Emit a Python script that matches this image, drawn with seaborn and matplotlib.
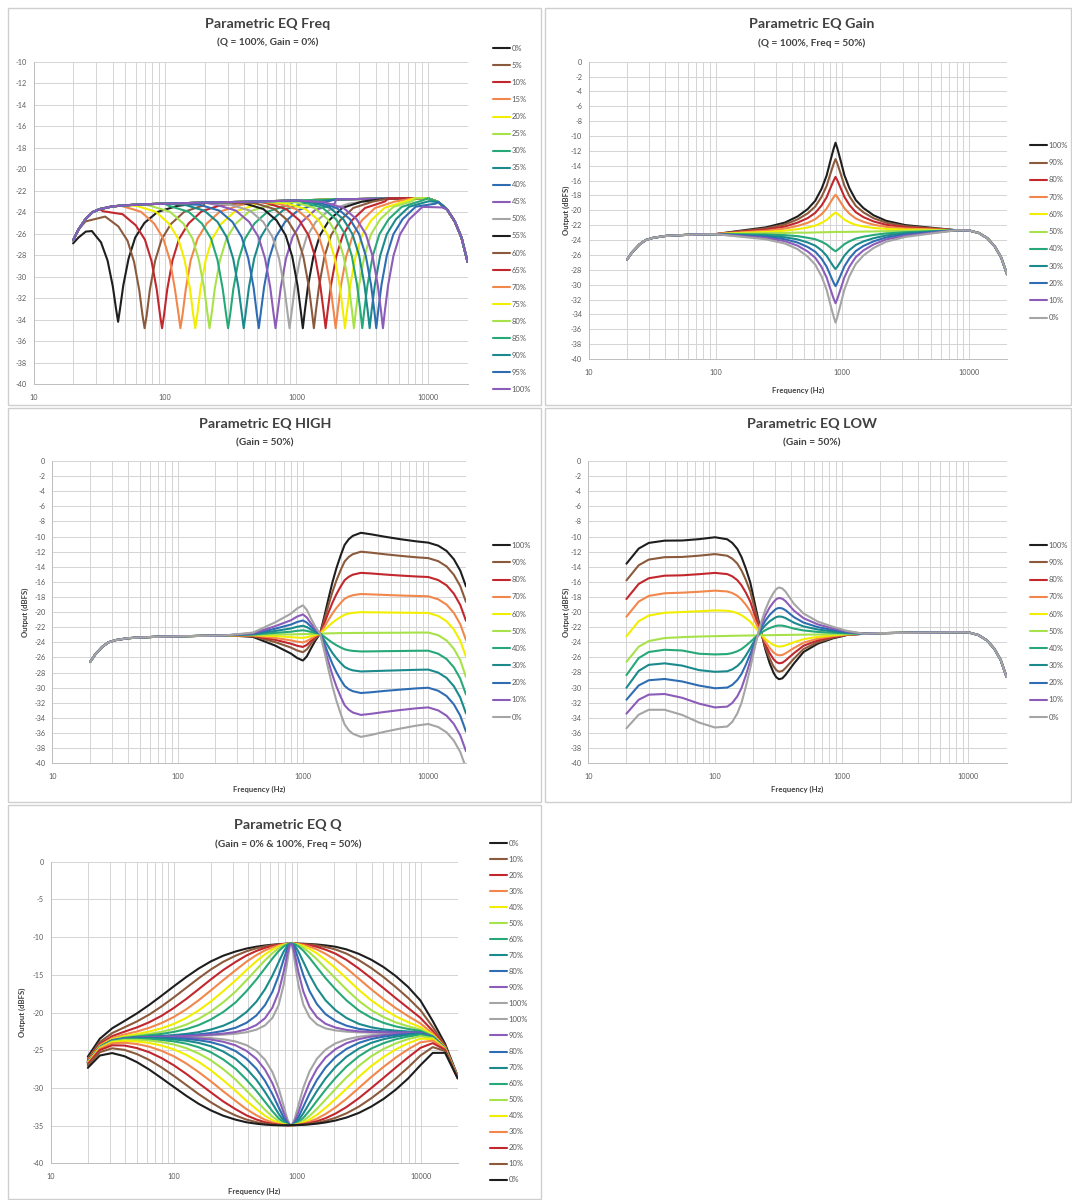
import numpy as np
import pandas as pd
import matplotlib
matplotlib.use("Agg")
import matplotlib.pyplot as plt
import seaborn as sns
from matplotlib.patches import Rectangle
from matplotlib.ticker import FixedLocator, NullFormatter

# ---------------------------------------------------------------- data
# shared system response (read from the flat parts of the curves)
base_hz = [20, 22, 25, 28, 32, 40, 50, 70, 100, 200, 500, 1000, 2000, 5000,
           8000, 10000, 12000, 14000, 16000, 18000, 20000]
base_db = [-26.6, -25.6, -24.6, -24.0, -23.7, -23.45, -23.35, -23.25, -23.2, -23.1,
           -23.0, -22.9, -22.8, -22.72, -22.68, -22.7, -23.05, -23.75, -24.85, -26.35, -28.6]

curve_colors = ["#1e1e1e", "#8b5a3c", "#c1272d", "#f2874c", "#f2ee00", "#a8e24a",
                "#27a878", "#1b8a8c", "#2f6db3", "#8c5cb9", "#a5a5a5"]

# Panel 1 : Parametric EQ Freq
freq_labels = ["0%", "5%", "10%", "15%", "20%", "25%", "30%", "35%", "40%", "45%", "50%",
               "55%", "60%", "65%", "70%", "75%", "80%", "85%", "90%", "95%", "100%"]
freq_notch_hz = [
    [20, 22, 25, 27.8, 32.6, 36.6, 40.1, 42.5, 44, 45.5, 48.2, 52.9, 59.4, 69.7, 87.8, 124],
    [24.9, 35.1, 44.2, 51.9, 58.2, 63.8, 67.6, 70, 72.5, 76.7, 84.1, 94.4, 111, 140, 197],
    [33.7, 47.6, 59.9, 70.4, 79.0, 86.6, 91.8, 95, 98.3, 104, 114, 128, 151, 190, 268],
    [46.5, 65.6, 82.7, 97.1, 109, 119, 127, 131, 136, 144, 157, 177, 208, 261, 369],
    [60.4, 85.2, 107, 126, 141, 155, 164, 170, 176, 186, 204, 229, 269, 339, 479],
    [77.4, 109, 138, 162, 181, 199, 211, 218, 226, 239, 262, 294, 346, 435, 614],
    [107, 151, 191, 224, 251, 275, 292, 302, 313, 331, 363, 407, 479, 602, 851],
    [141, 199, 251, 294, 330, 362, 384, 397, 411, 435, 477, 536, 629, 792, 1119],
    [184, 259, 326, 383, 430, 472, 499, 517, 535, 567, 621, 697, 819, 1031, 1457],
    [246, 347, 437, 514, 577, 632, 669, 693, 717, 760, 833, 935, 1098, 1383, 1953],
    [315, 444, 559, 657, 737, 808, 856, 886, 917, 971, 1065, 1195, 1404, 1768, 2497],
    [397, 560, 705, 828, 930, 1020, 1080, 1118, 1157, 1225, 1344, 1508, 1772, 2230, 3151],
    [482, 680, 856, 1006, 1129, 1238, 1311, 1357, 1404, 1487, 1631, 1831, 2151, 2707, 3824],
    [592, 835, 1052, 1235, 1387, 1520, 1610, 1667, 1725, 1827, 2004, 2249, 2642, 3326, 4698],
    [705, 995, 1254, 1472, 1653, 1812, 1919, 1987, 2057, 2178, 2388, 2680, 3149, 3964, 5599],
    [830, 1171, 1475, 1732, 1945, 2132, 2259, 2338, 2420, 2562, 2810, 3154, 3706, 4664, 6588],
    [972, 1371, 1727, 2028, 2277, 2496, 2644, 2737, 2833, 3000, 3290, 3692, 4338, 5460, 7713],
    [1125, 1587, 1999, 2347, 2636, 2889, 3060, 3168, 3279, 3472, 3808, 4274, 5021, 6320, 8927],
    [1279, 1806, 2274, 2671, 2999, 3287, 3481, 3604, 3730, 3950, 4332, 4862, 5712, 7190, 10156],
    [1437, 2028, 2554, 2999, 3367, 3691, 3909, 4047, 4189, 4436, 4864, 5459, 6414, 8074, 11404],
    [1615, 2280, 2871, 3372, 3786, 4150, 4395, 4550, 4709, 4987, 5469, 6138, 7212, 9077, 12822],
]
freq_notch_db = [
    [-26.9, -26.35, -25.8, -25.75, -26.8, -28.5, -30.9, -33.05, -34.2, -33.0, -30.8, -28.3, -26.35, -25.0, -23.97, -23.41],
    [-24.85, -24.4, -25.32, -26.65, -28.62, -31.29, -33.67, -34.8, -33.65, -31.24, -28.53, -26.51, -25.09, -23.96, -23.35],
    [-23.9, -24.18, -25.21, -26.55, -28.54, -31.22, -33.61, -34.8, -33.6, -31.2, -28.49, -26.48, -25.05, -23.91, -23.32],
    [-23.4, -23.95, -25.05, -26.45, -28.45, -31.15, -33.55, -34.8, -33.55, -31.15, -28.45, -26.45, -25.05, -23.95, -23.35],
    [-23.4, -23.95, -25.05, -26.45, -28.45, -31.15, -33.55, -34.8, -33.55, -31.15, -28.45, -26.45, -25.05, -23.95, -23.35],
    [-23.4, -23.95, -25.05, -26.45, -28.45, -31.15, -33.55, -34.8, -33.55, -31.15, -28.45, -26.45, -25.05, -23.95, -23.35],
    [-23.4, -23.95, -25.05, -26.45, -28.45, -31.15, -33.55, -34.8, -33.55, -31.15, -28.45, -26.45, -25.05, -23.95, -23.35],
    [-23.3, -23.85, -24.9, -26.3, -28.3, -31.0, -33.4, -34.8, -33.4, -31.0, -28.3, -26.3, -24.9, -23.8, -23.2],
    [-23.3, -23.85, -24.9, -26.3, -28.3, -31.0, -33.4, -34.8, -33.4, -31.0, -28.3, -26.3, -24.9, -23.8, -23.2],
    [-23.3, -23.85, -24.9, -26.3, -28.3, -31.0, -33.4, -34.8, -33.4, -31.0, -28.3, -26.3, -24.9, -23.8, -23.2],
    [-23.3, -23.85, -24.9, -26.3, -28.3, -31.0, -33.4, -34.8, -33.4, -31.0, -28.3, -26.3, -24.9, -23.8, -23.2],
    [-23.15, -23.7, -24.75, -26.15, -28.15, -30.85, -33.25, -34.8, -33.25, -30.85, -28.15, -26.15, -24.75, -23.6, -23.0],
    [-23.15, -23.7, -24.75, -26.15, -28.15, -30.85, -33.25, -34.8, -33.25, -30.85, -28.15, -26.15, -24.75, -23.6, -23.0],
    [-23.15, -23.7, -24.75, -26.15, -28.15, -30.85, -33.25, -34.8, -33.25, -30.85, -28.15, -26.15, -24.75, -23.6, -23.0],
    [-23.15, -23.7, -24.75, -26.15, -28.15, -30.85, -33.25, -34.8, -33.25, -30.85, -28.15, -26.15, -24.75, -23.6, -23.0],
    [-23.15, -23.7, -24.75, -26.15, -28.15, -30.85, -33.25, -34.8, -33.25, -30.85, -28.15, -26.15, -24.75, -23.6, -23.0],
    [-23.05, -23.6, -24.65, -26.05, -28.05, -30.75, -33.15, -34.8, -33.15, -30.75, -28.05, -26.05, -24.65, -23.5, -22.93],
    [-23.05, -23.6, -24.65, -26.05, -28.05, -30.75, -33.15, -34.8, -33.15, -30.75, -28.05, -26.05, -24.65, -23.5, -22.93],
    [-23.05, -23.6, -24.65, -26.05, -28.05, -30.75, -33.15, -34.8, -33.15, -30.75, -28.05, -26.05, -24.65, -23.49, -22.97],
    [-23.05, -23.6, -24.65, -26.05, -28.05, -30.75, -33.15, -34.8, -33.15, -30.75, -28.05, -26.05, -24.65, -23.48, -23.2],
    [-23.05, -23.6, -24.65, -26.05, -28.05, -30.75, -33.15, -34.8, -33.15, -30.75, -28.05, -26.05, -24.65, -23.5, -23.55],
]

# Panels 2-4 share the legend labels
level_labels = ["100%", "90%", "80%", "70%", "60%", "50%", "40%", "30%", "20%", "10%", "0%"]

# Panel 2 : Parametric EQ Gain
gain_hz = [140, 249, 352, 444, 533, 612, 687, 753, 807, 855, 885, 916, 970, 1040, 1140,
           1279, 1469, 1766, 2223, 3140, 5584]
gain_db = [
    [-22.85, -22.29, -21.65, -20.82, -19.83, -18.71, -17.09, -15.31, -13.3, -11.7, -10.9, -11.69, -13.28, -15.27, -17.03, -18.62, -19.69, -20.66, -21.41, -21.98, -22.41],
    [-22.9, -22.43, -21.9, -21.22, -20.41, -19.49, -18.17, -16.71, -15.06, -13.76, -13.1, -13.75, -15.04, -16.67, -18.11, -19.4, -20.27, -21.06, -21.66, -22.12, -22.46],
    [-22.96, -22.59, -22.18, -21.65, -21.05, -20.34, -19.34, -18.23, -16.99, -16.0, -15.5, -15.99, -16.97, -18.19, -19.28, -20.25, -20.91, -21.49, -21.94, -22.28, -22.52],
    [-23.02, -22.75, -22.46, -22.09, -21.68, -21.19, -20.51, -19.76, -18.91, -18.24, -17.9, -18.23, -18.89, -19.72, -20.45, -21.1, -21.54, -21.93, -22.22, -22.44, -22.58],
    [-23.08, -22.91, -22.74, -22.53, -22.31, -22.05, -21.68, -21.29, -20.83, -20.48, -20.3, -20.47, -20.81, -21.25, -21.62, -21.96, -22.17, -22.37, -22.5, -22.6, -22.64],
    [-23.15, -23.08, -23.04, -23.0, -23.0, -22.97, -22.95, -22.94, -22.92, -22.91, -22.9, -22.9, -22.9, -22.9, -22.89, -22.88, -22.86, -22.84, -22.8, -22.77, -22.71],
    [-23.22, -23.25, -23.34, -23.47, -23.69, -23.89, -24.22, -24.59, -25.01, -25.34, -25.5, -25.33, -24.99, -24.55, -24.16, -23.8, -23.55, -23.31, -23.1, -22.94, -22.78],
    [-23.28, -23.41, -23.62, -23.91, -24.32, -24.75, -25.39, -26.12, -26.93, -27.58, -27.9, -27.57, -26.91, -26.08, -25.33, -24.66, -24.18, -23.75, -23.38, -23.1, -22.84],
    [-23.33, -23.56, -23.89, -24.33, -24.93, -25.56, -26.51, -27.58, -28.77, -29.73, -30.2, -29.72, -28.75, -27.54, -26.45, -25.47, -24.79, -24.17, -23.65, -23.25, -22.89],
    [-23.39, -23.71, -24.15, -24.75, -25.53, -26.38, -27.63, -29.05, -30.62, -31.88, -32.5, -31.87, -30.6, -29.01, -27.57, -26.29, -25.39, -24.59, -23.91, -23.42, -22.95],
    [-23.46, -23.89, -24.46, -25.22, -26.22, -27.3, -28.9, -30.7, -32.7, -34.3, -35.1, -34.29, -32.68, -30.66, -28.84, -27.21, -26.08, -25.06, -24.22, -23.58, -23.02],
]

# Panel 3 : Parametric EQ HIGH
high_hz = [250, 400, 600, 800, 900, 1000, 1075, 1150, 1260, 1370, 1480, 1600, 1720, 1850,
           2000, 2150, 2320, 2500, 2900, 3500, 4500, 6000, 8000, 10000, 12000, 14000,
           16000, 18000, 20000]
high_db = [
    [-23.05, -23.28, -24.42, -25.47, -26.07, -26.4, -25.84, -24.9, -23.72, -22.85, -20.59, -18.18, -16.03, -14.17, -12.49, -11.1, -10.35, -9.9, -9.5, -9.7, -10.02, -10.35, -10.63, -10.8, -11.2, -11.9, -13.0, -14.5, -16.6],
    [-23.05, -23.19, -23.96, -24.68, -25.08, -25.3, -24.92, -24.27, -23.46, -22.85, -21.02, -19.05, -17.31, -15.8, -14.43, -13.3, -12.69, -12.33, -12.0, -12.13, -12.34, -12.55, -12.74, -12.85, -13.25, -13.95, -15.05, -16.55, -18.65],
    [-23.05, -23.14, -23.66, -24.17, -24.45, -24.6, -24.33, -23.87, -23.29, -22.85, -21.49, -20.03, -18.74, -17.62, -16.6, -15.77, -15.32, -15.04, -14.8, -14.88, -15.02, -15.16, -15.28, -15.35, -15.75, -16.45, -17.55, -19.05, -21.15],
    [-23.05, -23.09, -23.41, -23.74, -23.91, -24.0, -23.82, -23.53, -23.14, -22.85, -21.96, -21.01, -20.17, -19.44, -18.78, -18.23, -17.94, -17.76, -17.6, -17.65, -17.72, -17.8, -17.86, -17.9, -18.3, -19.0, -20.1, -21.6, -23.7],
    [-23.05, -23.04, -23.16, -23.31, -23.37, -23.4, -23.32, -23.19, -23.0, -22.85, -22.37, -21.85, -21.39, -21.0, -20.64, -20.34, -20.18, -20.09, -20.0, -20.02, -20.04, -20.07, -20.09, -20.1, -20.5, -21.2, -22.3, -23.8, -25.9],
    [-23.05, -23.0, -22.95, -22.95, -22.92, -22.9, -22.9, -22.9, -22.88, -22.85, -22.83, -22.81, -22.8, -22.78, -22.77, -22.76, -22.76, -22.75, -22.75, -22.74, -22.73, -22.72, -22.7, -22.7, -23.05, -23.75, -24.85, -26.35, -28.6],
    [-23.05, -22.96, -22.74, -22.59, -22.47, -22.4, -22.48, -22.61, -22.76, -22.85, -23.25, -23.67, -24.05, -24.38, -24.67, -24.92, -25.05, -25.13, -25.2, -25.19, -25.16, -25.14, -25.11, -25.1, -25.5, -26.2, -27.3, -28.8, -30.9],
    [-23.05, -22.91, -22.49, -22.16, -21.93, -21.8, -21.98, -22.27, -22.62, -22.85, -23.7, -24.6, -25.41, -26.1, -26.73, -27.25, -27.53, -27.7, -27.85, -27.81, -27.75, -27.69, -27.63, -27.6, -28.0, -28.7, -29.8, -31.3, -33.4],
    [-23.05, -22.86, -22.19, -21.65, -21.3, -21.1, -21.39, -21.87, -22.45, -22.85, -24.18, -25.6, -26.86, -27.95, -28.94, -29.76, -30.2, -30.46, -30.7, -30.6, -30.42, -30.25, -30.09, -30.0, -30.4, -31.1, -32.2, -33.7, -35.8],
    [-23.05, -22.79, -21.86, -21.08, -20.58, -20.3, -20.72, -21.42, -22.26, -22.85, -24.67, -26.61, -28.34, -29.84, -31.19, -32.31, -32.91, -33.28, -33.6, -33.45, -33.2, -32.95, -32.73, -32.6, -33.0, -33.7, -34.8, -36.3, -38.4],
    [-23.05, -22.7, -21.35, -20.21, -19.5, -19.1, -19.71, -20.73, -21.97, -22.85, -25.16, -27.63, -29.83, -31.72, -33.44, -34.86, -35.63, -36.09, -36.5, -36.25, -35.82, -35.4, -35.02, -34.8, -35.2, -35.9, -37.0, -38.5, -40.6],
]

# Panel 4 : Parametric EQ LOW
low_hz = [20, 25, 30, 40, 55, 75, 100, 125, 137, 150, 162, 175, 190, 210, 230, 250, 270,
          290, 305, 320, 340, 360, 420, 500, 650, 850, 1100, 1500]
low_db = [
    [-13.6, -11.6, -10.85, -10.55, -10.53, -10.35, -10.1, -10.37, -10.85, -11.64, -12.73, -14.22, -16.11, -19.5, -22.49, -24.98, -26.77, -28.06, -28.65, -28.9, -28.79, -28.34, -26.82, -25.3, -24.18, -23.5, -23.05, -22.88],
    [-15.81, -13.81, -13.06, -12.74, -12.71, -12.54, -12.33, -12.55, -12.94, -13.59, -14.5, -15.73, -17.3, -20.11, -22.59, -24.66, -26.14, -27.21, -27.7, -27.91, -27.81, -27.44, -26.17, -24.91, -23.98, -23.41, -23.02, -22.88],
    [-18.28, -16.28, -15.53, -15.19, -15.14, -14.99, -14.82, -14.98, -15.28, -15.78, -16.47, -17.42, -18.63, -20.8, -22.71, -24.3, -25.44, -26.26, -26.63, -26.79, -26.72, -26.43, -25.45, -24.47, -23.75, -23.3, -23.0, -22.88],
    [-20.62, -18.62, -17.87, -17.52, -17.44, -17.32, -17.17, -17.28, -17.49, -17.85, -18.35, -19.03, -19.89, -21.44, -22.81, -23.95, -24.77, -25.36, -25.63, -25.74, -25.69, -25.48, -24.77, -24.06, -23.53, -23.2, -22.97, -22.88],
    [-23.22, -21.22, -20.47, -20.1, -20.0, -19.9, -19.79, -19.84, -19.95, -20.15, -20.43, -20.81, -21.29, -22.16, -22.93, -23.57, -24.03, -24.36, -24.51, -24.57, -24.54, -24.42, -24.01, -23.6, -23.29, -23.09, -22.94, -22.88],
    [-26.6, -24.6, -23.85, -23.45, -23.33, -23.25, -23.2, -23.17, -23.15, -23.14, -23.13, -23.12, -23.11, -23.1, -23.09, -23.08, -23.07, -23.06, -23.05, -23.05, -23.04, -23.04, -23.02, -23.0, -22.98, -22.95, -22.9, -22.88],
    [-28.36, -26.1, -25.3, -25.0, -25.1, -25.53, -25.62, -25.57, -25.43, -25.2, -24.91, -24.48, -23.97, -23.3, -22.77, -22.4, -22.13, -21.94, -21.83, -21.79, -21.81, -21.89, -22.2, -22.44, -22.64, -22.75, -22.82, -22.88],
    [-30.03, -27.8, -27.0, -26.8, -27.1, -27.7, -27.92, -27.85, -27.6, -27.16, -26.6, -25.77, -24.79, -23.49, -22.47, -21.75, -21.24, -20.88, -20.67, -20.59, -20.64, -20.8, -21.42, -21.91, -22.32, -22.56, -22.74, -22.88],
    [-31.62, -29.73, -29.04, -28.87, -29.2, -29.75, -30.1, -30.01, -29.65, -29.01, -28.2, -27.0, -25.56, -23.67, -22.18, -21.14, -20.39, -19.87, -19.57, -19.46, -19.53, -19.76, -20.68, -21.4, -22.01, -22.38, -22.67, -22.88],
    [-33.46, -31.62, -30.95, -30.86, -31.36, -32.14, -32.64, -32.53, -32.04, -31.17, -30.07, -28.42, -26.46, -23.88, -21.84, -20.43, -19.4, -18.69, -18.29, -18.14, -18.24, -18.55, -19.82, -20.82, -21.65, -22.17, -22.59, -22.88],
    [-35.4, -33.6, -32.95, -32.95, -33.63, -34.65, -35.3, -35.17, -34.55, -33.44, -32.03, -29.92, -27.41, -24.1, -21.49, -19.68, -18.37, -17.46, -16.95, -16.75, -16.89, -17.29, -18.92, -20.2, -21.28, -21.95, -22.5, -22.88],
]

# Panel 5 : Parametric EQ Q  (flat response + read boost / cut above or below it)
q_labels_boost = ["0%", "10%", "20%", "30%", "40%", "50%", "60%", "70%", "80%", "90%", "100%"]
q_labels_cut = ["100%", "90%", "80%", "70%", "60%", "50%", "40%", "30%", "20%", "10%", "0%"]
q_hz = [20, 25, 31.5, 39.7, 50, 63, 79.2, 99.8, 125.6, 158.1, 199.1, 250.6, 315.5, 387, 466,
        547, 629, 706, 774, 830, 869, 889, 910, 953, 1021, 1119, 1256, 1444, 1696, 2043,
        2505, 3154, 3970, 5000, 6290, 7920, 9970, 12550, 15800, 20000]
q_base_db = [-26.6, -24.6, -23.74, -23.46, -23.35, -23.28, -23.24, -23.2, -23.17, -23.14,
             -23.1, -23.08, -23.06, -23.04, -23.01, -22.99, -22.97, -22.95, -22.93, -22.92,
             -22.91, -22.9, -22.9, -22.9, -22.9, -22.89, -22.88, -22.86, -22.84, -22.8,
             -22.78, -22.77, -22.74, -22.72, -22.7, -22.68, -22.7, -23.25, -24.75, -28.6]
q_boost_dev = [  # gain 100 %, Q = 0 % ... 100 %
    [0.74, 1.11, 1.64, 2.34, 3.23, 4.29, 5.46, 6.68, 7.87, 8.96, 9.88, 10.61, 11.15, 11.52, 11.74, 11.88, 11.96, 12.01, 12.03, 12.04, 12.04, 12.04, 12.04, 12.04, 12.03, 12.01, 11.96, 11.88, 11.74, 11.52, 11.15, 10.55, 9.75, 8.75, 7.53, 6.07, 4.29, 2.11, 0.6, 0.16],
    [0.44, 0.67, 1.01, 1.50, 2.16, 3.01, 4.04, 5.21, 6.44, 7.67, 8.81, 9.80, 10.59, 11.16, 11.53, 11.76, 11.90, 11.98, 12.02, 12.04, 12.04, 12.04, 12.04, 12.04, 12.02, 11.98, 11.90, 11.76, 11.53, 11.16, 10.59, 9.72, 8.65, 7.43, 6.07, 4.61, 3.01, 1.34, 0.35, 0.09],
    [0.25, 0.39, 0.61, 0.92, 1.37, 1.99, 2.80, 3.81, 4.96, 6.22, 7.49, 8.71, 9.76, 10.60, 11.18, 11.56, 11.80, 11.93, 12.0, 12.03, 12.04, 12.04, 12.04, 12.03, 12.0, 11.93, 11.80, 11.56, 11.18, 10.60, 9.76, 8.60, 7.30, 5.96, 4.60, 3.28, 1.99, 0.81, 0.20, 0.05],
    [0.14, 0.23, 0.35, 0.55, 0.83, 1.25, 1.84, 2.61, 3.59, 4.75, 6.03, 7.37, 8.66, 9.78, 10.62, 11.23, 11.62, 11.85, 11.97, 12.02, 12.04, 12.04, 12.04, 12.02, 11.97, 11.85, 11.62, 11.22, 10.62, 9.78, 8.66, 7.25, 5.83, 4.50, 3.28, 2.20, 1.25, 0.48, 0.12, 0.03],
    [0.08, 0.13, 0.20, 0.32, 0.49, 0.76, 1.14, 1.69, 2.44, 3.40, 4.56, 5.90, 7.32, 8.67, 9.81, 10.70, 11.32, 11.71, 11.92, 12.0, 12.04, 12.04, 12.04, 12.0, 11.92, 11.71, 11.32, 10.70, 9.81, 8.67, 7.32, 5.77, 4.37, 3.19, 2.19, 1.40, 0.76, 0.29, 0.07, 0.02],
    [0.05, 0.07, 0.12, 0.18, 0.29, 0.44, 0.68, 1.04, 1.56, 2.28, 3.23, 4.43, 5.83, 7.32, 8.71, 9.91, 10.84, 11.47, 11.83, 11.99, 12.04, 12.04, 12.04, 11.99, 11.83, 11.47, 10.84, 9.91, 8.71, 7.32, 5.83, 4.31, 3.07, 2.12, 1.39, 0.85, 0.44, 0.16, 0.04, 0.01],
    [0.03, 0.04, 0.07, 0.10, 0.16, 0.26, 0.40, 0.63, 0.96, 1.46, 2.17, 3.14, 4.39, 5.87, 7.39, 8.85, 10.13, 11.09, 11.67, 11.95, 12.03, 12.04, 12.03, 11.95, 11.67, 11.09, 10.13, 8.85, 7.39, 5.87, 4.39, 3.04, 2.05, 1.35, 0.85, 0.50, 0.26, 0.09, 0.02, 0.01],
    [0.01, 0.01, 0.02, 0.03, 0.05, 0.08, 0.13, 0.21, 0.33, 0.53, 0.84, 1.32, 2.05, 3.10, 4.45, 6.07, 7.87, 9.62, 10.99, 11.75, 12.01, 12.04, 12.01, 11.75, 10.99, 9.62, 7.87, 6.07, 4.45, 3.10, 2.05, 1.26, 0.78, 0.48, 0.29, 0.17, 0.08, 0.03, 0.01, 0.0],
    [0.0, 0.01, 0.01, 0.01, 0.02, 0.04, 0.06, 0.09, 0.15, 0.24, 0.38, 0.63, 1.03, 1.67, 2.62, 3.96, 5.73, 7.85, 9.94, 11.40, 11.96, 12.04, 11.96, 11.40, 9.94, 7.85, 5.73, 3.96, 2.62, 1.67, 1.03, 0.60, 0.36, 0.22, 0.13, 0.07, 0.04, 0.01, 0.0, 0.0],
    [0.0, 0.0, 0.0, 0.01, 0.01, 0.02, 0.02, 0.04, 0.06, 0.10, 0.17, 0.28, 0.47, 0.80, 1.35, 2.23, 3.63, 5.68, 8.27, 10.68, 11.86, 12.04, 11.86, 10.68, 8.27, 5.68, 3.63, 2.23, 1.34, 0.80, 0.47, 0.27, 0.16, 0.09, 0.06, 0.03, 0.02, 0.01, 0.0, 0.0],
    [0.0, 0.0, 0.0, 0.0, 0.0, 0.01, 0.01, 0.02, 0.03, 0.05, 0.08, 0.14, 0.24, 0.42, 0.73, 1.28, 2.26, 3.95, 6.56, 9.68, 11.69, 12.04, 11.69, 9.68, 6.56, 3.95, 2.26, 1.28, 0.73, 0.42, 0.24, 0.14, 0.08, 0.05, 0.03, 0.02, 0.01, 0.0, 0.0, 0.0],
]
q_cut_dev = [  # gain 0 %, Q = 100 % ... 0 %
    [-0.0, -0.0, -0.01, -0.01, -0.02, -0.03, -0.04, -0.07, -0.11, -0.18, -0.29, -0.47, -0.78, -1.29, -2.08, -3.27, -4.94, -7.09, -9.41, -11.19, -11.94, -12.04, -11.94, -11.19, -9.41, -7.09, -4.94, -3.27, -2.08, -1.29, -0.78, -0.45, -0.27, -0.16, -0.09, -0.05, -0.03, -0.01, -0.0, -0.0],
    [-0.0, -0.01, -0.01, -0.02, -0.03, -0.05, -0.08, -0.12, -0.19, -0.31, -0.49, -0.80, -1.29, -2.05, -3.13, -4.59, -6.42, -8.46, -10.33, -11.54, -11.98, -12.04, -11.98, -11.54, -10.33, -8.46, -6.42, -4.59, -3.13, -2.05, -1.29, -0.76, -0.46, -0.28, -0.17, -0.10, -0.05, -0.02, -0.0, -0.0],
    [-0.01, -0.01, -0.02, -0.03, -0.05, -0.08, -0.13, -0.21, -0.33, -0.53, -0.84, -1.32, -2.05, -3.10, -4.45, -6.07, -7.87, -9.62, -10.99, -11.75, -12.01, -12.04, -12.01, -11.75, -10.99, -9.62, -7.87, -6.07, -4.45, -3.10, -2.05, -1.26, -0.78, -0.48, -0.29, -0.17, -0.08, -0.03, -0.01, -0.0],
    [-0.02, -0.02, -0.04, -0.06, -0.09, -0.15, -0.23, -0.37, -0.57, -0.89, -1.37, -2.09, -3.09, -4.40, -5.91, -7.54, -9.13, -10.49, -11.41, -11.87, -12.02, -12.04, -12.02, -11.87, -11.41, -10.49, -9.13, -7.54, -5.91, -4.40, -3.09, -2.01, -1.29, -0.82, -0.50, -0.29, -0.15, -0.05, -0.01, -0.0],
    [-0.03, -0.04, -0.07, -0.10, -0.16, -0.26, -0.40, -0.63, -0.96, -1.46, -2.17, -3.14, -4.39, -5.87, -7.39, -8.85, -10.13, -11.09, -11.67, -11.95, -12.03, -12.04, -12.03, -11.95, -11.67, -11.09, -10.13, -8.85, -7.39, -5.87, -4.39, -3.04, -2.05, -1.35, -0.85, -0.50, -0.26, -0.09, -0.02, -0.01],
    [-0.05, -0.07, -0.12, -0.18, -0.29, -0.44, -0.68, -1.04, -1.56, -2.28, -3.23, -4.43, -5.83, -7.32, -8.71, -9.91, -10.84, -11.47, -11.83, -11.99, -12.04, -12.04, -12.04, -11.99, -11.83, -11.47, -10.84, -9.91, -8.71, -7.32, -5.83, -4.31, -3.07, -2.12, -1.39, -0.85, -0.44, -0.16, -0.04, -0.01],
    [-0.08, -0.13, -0.20, -0.32, -0.49, -0.76, -1.14, -1.69, -2.44, -3.40, -4.56, -5.90, -7.32, -8.67, -9.81, -10.70, -11.32, -11.71, -11.92, -12.0, -12.04, -12.04, -12.04, -12.0, -11.92, -11.71, -11.32, -10.70, -9.81, -8.67, -7.32, -5.77, -4.37, -3.19, -2.19, -1.40, -0.76, -0.29, -0.07, -0.02],
    [-0.14, -0.23, -0.35, -0.55, -0.83, -1.25, -1.84, -2.61, -3.59, -4.75, -6.03, -7.37, -8.66, -9.78, -10.62, -11.23, -11.62, -11.85, -11.97, -12.02, -12.04, -12.04, -12.04, -12.02, -11.97, -11.85, -11.62, -11.22, -10.62, -9.78, -8.66, -7.25, -5.83, -4.50, -3.28, -2.20, -1.25, -0.48, -0.12, -0.03],
    [-0.25, -0.39, -0.61, -0.92, -1.37, -1.99, -2.80, -3.81, -4.96, -6.22, -7.49, -8.71, -9.76, -10.60, -11.18, -11.56, -11.80, -11.93, -12.0, -12.03, -12.04, -12.04, -12.04, -12.03, -12.0, -11.93, -11.80, -11.56, -11.18, -10.60, -9.76, -8.60, -7.30, -5.96, -4.60, -3.28, -1.99, -0.81, -0.20, -0.05],
    [-0.44, -0.67, -1.01, -1.50, -2.16, -3.01, -4.04, -5.21, -6.44, -7.67, -8.81, -9.80, -10.59, -11.16, -11.53, -11.76, -11.90, -11.98, -12.02, -12.04, -12.04, -12.04, -12.04, -12.04, -12.02, -11.98, -11.90, -11.76, -11.53, -11.16, -10.59, -9.72, -8.65, -7.43, -6.07, -4.61, -3.01, -1.34, -0.35, -0.09],
    [-0.74, -1.11, -1.64, -2.34, -3.23, -4.29, -5.46, -6.68, -7.87, -8.96, -9.88, -10.61, -11.15, -11.52, -11.74, -11.88, -11.96, -12.01, -12.03, -12.04, -12.04, -12.04, -12.04, -12.04, -12.03, -12.01, -11.96, -11.88, -11.74, -11.52, -11.15, -10.55, -9.75, -8.75, -7.53, -6.07, -4.29, -2.11, -0.6, -0.16],
]

# ---------------------------------------------------------------- style
sns.set_theme(style="white")
plt.rcParams["font.family"] = ["Lato", "DejaVu Sans"]
plt.rcParams["axes.unicode_minus"] = False

W, H = 1072, 1200
fig = plt.figure(figsize=(W / 100, H / 100), dpi=100)
fig.patch.set_facecolor("white")
TXT = "#404040"
GRID = "#d4d4d4"


def frac_rect(x0, y0, x1, y1):
    return [x0 / W, 1 - y1 / H, (x1 - x0) / W, (y1 - y0) / H]


def panel_box(x0, y0, x1, y1):
    fig.add_artist(Rectangle((x0 / W, 1 - y1 / H), (x1 - x0) / W, (y1 - y0) / H,
                             transform=fig.transFigure, fill=False,
                             edgecolor="#cfcfcf", lw=1.0))


def assemble(seg_hz, seg_db):
    keep = [(f, v) for f, v in zip(base_hz, base_db) if f < seg_hz[0] or f > seg_hz[-1]]
    pts = sorted(keep + list(zip(seg_hz, seg_db)))
    return pd.DataFrame(pts, columns=["hz", "db"])


def q_curve(dev_row):
    return pd.DataFrame({"hz": q_hz,
                         "db": [b + d for b, d in zip(q_base_db, dev_row)]})


def draw(ax, df, color, label, z=2):
    sns.lineplot(data=df, x="hz", y="db", ax=ax, color=color, linewidth=1.5,
                 label=label, estimator=None, sort=True, zorder=z)


def style_axis(ax, ymin, ymax, ystep):
    ax.set_xscale("log")
    ax.set_xlim(10, 20000)
    ax.set_ylim(ymin, ymax)
    ax.xaxis.set_major_locator(FixedLocator([10, 100, 1000, 10000]))
    minors = [m * 10 ** e for e in range(1, 5) for m in range(2, 10) if m * 10 ** e <= 20000]
    ax.xaxis.set_minor_locator(FixedLocator(minors))
    ax.xaxis.set_minor_formatter(NullFormatter())
    ax.set_xticklabels(["10", "100", "1000", "10000"])
    yt = np.arange(ymin, ymax + 0.01, ystep)
    ax.yaxis.set_major_locator(FixedLocator(yt))
    ax.set_yticklabels([str(int(round(v))) for v in yt])
    ax.grid(True, which="both", axis="x", color=GRID, lw=0.7)
    ax.grid(True, which="major", axis="y", color=GRID, lw=0.7)
    ax.set_axisbelow(True)
    for s in ["top", "right"]:
        ax.spines[s].set_visible(False)
    for s in ["left", "bottom"]:
        ax.spines[s].set_color("#bdbdbd")
        ax.spines[s].set_linewidth(0.7)
    ax.tick_params(axis="both", which="major", labelsize=5.2, colors="#bdbdbd",
                   labelcolor="#595959", length=3, width=0.6, direction="out", pad=2)
    ax.tick_params(axis="x", which="minor", length=2, width=0.5, colors="#bdbdbd")
    ax.tick_params(axis="x", which="major", pad=4)
    ax.set_xlabel("")
    ax.set_ylabel("")
    ax.set_facecolor("white")


def put_legend(ax, x, y, spacing):
    h, l = ax.get_legend_handles_labels()
    leg = ax.legend(h, l, loc="upper left", bbox_to_anchor=(x / W, 1 - y / H),
                    bbox_transform=fig.transFigure, frameon=False, fontsize=5.5,
                    handlelength=2.2, handletextpad=0.25, labelspacing=spacing,
                    borderpad=0, borderaxespad=0)
    for t in leg.get_texts():
        t.set_color("#595959")


def titles(cx, y, title, sub):
    fig.text(cx / W, 1 - y / H, title, ha="center", va="center", fontsize=10.3,
             fontweight="bold", color=TXT)
    fig.text(cx / W, 1 - (y + 19) / H, sub, ha="center", va="center", fontsize=7.3,
             fontweight="bold", color=TXT)


def axis_labels(ax, ylab_x, xlab_y):
    pos = ax.get_position()
    fig.text(ylab_x / W, pos.y0 + pos.height / 2, "Output (dBFS)", rotation=90,
             ha="center", va="center", fontsize=5.6, fontweight="bold", color=TXT)
    fig.text(pos.x0 + pos.width / 2, 1 - xlab_y / H, "Frequency (Hz)", ha="center",
             va="center", fontsize=5.6, fontweight="bold", color=TXT)


# panel frames
panel_box(8, 8, 541, 405)
panel_box(545, 8, 1071, 405)
panel_box(8, 408, 541, 802)
panel_box(545, 408, 1071, 802)
panel_box(8, 805, 541, 1199)

# ---------------- Panel 1
ax1 = fig.add_axes(frac_rect(33.5, 62, 467.5, 384))
for i, lab in enumerate(freq_labels):
    draw(ax1, assemble(freq_notch_hz[i], freq_notch_db[i]), curve_colors[i % 11], lab)
style_axis(ax1, -40, -10, 2)
put_legend(ax1, 493, 45, 1.315)
titles(268, 24, "Parametric EQ Freq", "(Q = 100%, Gain = 0%)")

# ---------------- Panel 2
ax2 = fig.add_axes(frac_rect(589, 61.7, 1007, 359))
for i, lab in enumerate(level_labels):
    draw(ax2, assemble(gain_hz, gain_db[i]), curve_colors[i], lab)
style_axis(ax2, -40, 0, 2)
put_legend(ax2, 1030, 142, 1.34)
titles(812, 24, "Parametric EQ Gain", "(Q = 100%, Freq = 50%)")
axis_labels(ax2, 566, 390)

# ---------------- Panel 3
ax3 = fig.add_axes(frac_rect(52.3, 461, 466, 763.3))
for i, lab in enumerate(level_labels):
    draw(ax3, assemble(high_hz, high_db[i]), curve_colors[i], lab)
style_axis(ax3, -40, 0, 2)
put_legend(ax3, 493, 542, 1.33)
titles(265, 424, "Parametric EQ HIGH", "(Gain = 50%)")
axis_labels(ax3, 25, 789)

# ---------------- Panel 4
ax4 = fig.add_axes(frac_rect(588.3, 461, 1006.5, 763))
for i, lab in enumerate(level_labels):
    draw(ax4, assemble(low_hz, low_db[i]), curve_colors[i], lab)
style_axis(ax4, -40, 0, 2)
put_legend(ax4, 1030, 542, 1.33)
titles(812, 424, "Parametric EQ LOW", "(Gain = 50%)")
axis_labels(ax4, 566, 789)

# ---------------- Panel 5
ax5 = fig.add_axes(frac_rect(50.7, 861.7, 457.7, 1163.3))
for i, lab in enumerate(q_labels_boost):
    draw(ax5, q_curve(q_boost_dev[i]), curve_colors[i], lab, z=1.9 if i == 10 else 2)
for i, lab in enumerate(q_labels_cut):
    draw(ax5, q_curve(q_cut_dev[i]), curve_colors[10 - i], lab, z=1.9 if i == 0 else 2)
style_axis(ax5, -40, 0, 5)
put_legend(ax5, 490, 840, 1.18)
titles(288, 825, "Parametric EQ Q", "(Gain = 0% & 100%, Freq = 50%)")
axis_labels(ax5, 22, 1191)

fig.savefig("out.png", dpi=100, facecolor="white")
